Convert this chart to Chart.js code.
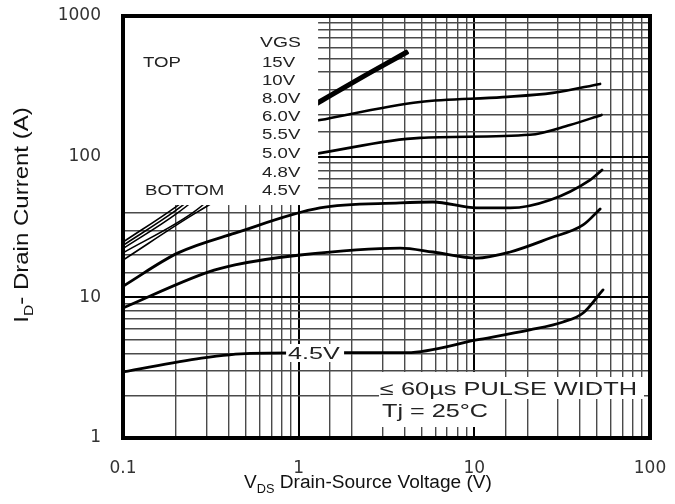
<!DOCTYPE html>
<html>
<head>
<meta charset="utf-8">
<script src="https://cdn.jsdelivr.net/npm/chart.js@4.4.1/dist/chart.umd.min.js"></script>
<style>
  html, body { margin: 0; padding: 0; background: #fff; }
</style>
</head>
<body>
<canvas id="chart" width="675" height="504"></canvas>
<script>
// VGS curves (VDS in V, ID in A)
const vds15 = [0.1, 0.2, 1.0, 1.32, 2.32, 4.1];
const id15  = [24.7, 44, 206, 252, 378, 565];
const vds10 = [0.1, 0.2, 1.0, 1.32, 2.32, 4.14];
const id10  = [23.4, 41.5, 201, 246, 370, 555];
const vds8  = [0.1, 0.2, 1.0, 1.32, 2.32, 4.18];
const id8   = [22.2, 39, 196, 240, 362, 545];
const vds6  = [0.1, 0.25, 1.0, 1.32, 4.9, 14.5, 28, 52];
const id6   = [20.7, 40, 170, 182, 245, 265, 284, 329];
const vds55 = [0.1, 0.27, 1.0, 1.32, 4.9, 20.7, 35, 53];
const id55  = [18.4, 41, 100, 106, 136, 143, 168, 198];
const vds5  = [0.1, 0.206, 0.434, 1.32, 3.78, 5.82, 10.3, 16, 27, 45.5, 53.3];
const id5   = [12.0, 20.7, 28.6, 43.2, 46.9, 47.6, 43.2, 43.2, 49.2, 68.2, 80.4];
const vds48 = [0.1, 0.305, 0.434, 1.02, 3.78, 5.82, 10.3, 16, 27, 41.6, 52];
const id48  = [8.4, 15.1, 17.0, 20.0, 22.4, 21.0, 19.0, 21.0, 26.4, 32.7, 42.5];
const vds45 = [0.1, 0.28, 0.53, 1.88, 4.14, 10.3, 20.7, 32, 41.6, 54];
const id45  = [2.95, 3.7, 4.0, 4.05, 4.05, 4.98, 5.86, 6.68, 7.74, 11.3];

const vgsLabels = ["15V", "10V", "8.0V", "6.0V", "5.5V", "5.0V", "4.8V", "4.5V"];
const xTickLabels = ["0.1", "1", "10", "100"];
const yTickLabels = ["1", "10", "100", "1000"];

function pts(xs, ys) {
  return xs.map((x, i) => ({ x: x, y: ys[i] }));
}

function isDecade(v) {
  const l = Math.log10(v);
  return Math.abs(l - Math.round(l)) < 1e-6;
}

// thin in the linear region, thick further right
const thinLeft = (w) => ({ borderWidth: ctx => ctx.p0.parsed.x < 0.9 ? 1.6 : w });

const curves = [
  [vds15, id15, 2.6, true],
  [vds10, id10, 2.6, true],
  [vds8,  id8,  2.6, true],
  [vds6,  id6,  2.6, true],
  [vds55, id55, 2.6, true],
  [vds5,  id5,  2.8, false],
  [vds48, id48, 2.8, false],
  [vds45, id45, 2.8, false]
];

const datasets = curves.map((c, i) => {
  const ds = {
    label: vgsLabels[i],
    data: pts(c[0], c[1]),
    borderColor: "#000",
    borderWidth: c[2],
    pointRadius: 0,
    fill: false,
    cubicInterpolationMode: "monotone",
    borderCapStyle: "round"
  };
  if (c[3]) ds.segment = thinLeft(c[2]);
  return ds;
});

function stretchText(ctx, txt, x, y, size, sx, family) {
  ctx.save();
  ctx.font = size + "px " + (family || "'Liberation Sans', Arial, sans-serif");
  ctx.translate(x, y);
  ctx.scale(sx, 1);
  ctx.textAlign = "left";
  ctx.textBaseline = "alphabetic";
  ctx.fillText(txt, 0, 0);
  ctx.restore();
}

// draw a run of [text, size, baselineShift] parts centred on 0
function drawParts(ctx, parts, sx) {
  const fam = "'Liberation Sans', Arial, sans-serif";
  let total = 0;
  parts.forEach(p => { ctx.font = p[1] + "px " + fam; total += ctx.measureText(p[0]).width; });
  ctx.scale(sx, 1);
  let x = -total / 2;
  ctx.textAlign = "left";
  ctx.textBaseline = "alphabetic";
  parts.forEach(p => {
    ctx.font = p[1] + "px " + fam;
    ctx.fillText(p[0], x, p[2]);
    x += ctx.measureText(p[0]).width;
  });
}

const annotations = {
  id: "annotations",
  afterDatasetsDraw(chart) {
    const ctx = chart.ctx;
    const a = chart.chartArea;
    const xs = chart.scales.x;
    const ys = chart.scales.y;

    ctx.save();
    // legend box over the top-left corner
    const boxR = xs.getPixelForValue(1.29);
    const boxB = ys.getPixelForValue(45.3);
    ctx.fillStyle = "#fff";
    ctx.fillRect(a.left, a.top, boxR - a.left, boxB - a.top);

    ctx.fillStyle = "#222";
    stretchText(ctx, "VGS", 260, 47, 14, 1.38);
    stretchText(ctx, "TOP", 143, 67, 14, 1.33);
    stretchText(ctx, "BOTTOM", 145, 195, 14, 1.33);
    const rows = [67, 85, 103, 121, 139, 158, 177, 195];
    vgsLabels.forEach((t, i) => stretchText(ctx, t, 262, rows[i], 14, 1.33));

    // inline label on the bottom curve
    const lx = xs.getPixelForValue(1.24);
    const ly = ys.getPixelForValue(4.02);
    ctx.fillStyle = "#fff";
    ctx.fillRect(lx - 29, ly - 9, 58, 18);
    ctx.fillStyle = "#222";
    stretchText(ctx, "4.5V", lx - 27, ly + 6, 17, 1.48);

    // test conditions
    ctx.fillStyle = "#fff";
    ctx.fillRect(379, 372, 110, 55);
    ctx.fillRect(379, 377, 265, 22);
    ctx.fillStyle = "#222";
    stretchText(ctx, "\u2264 60\u00b5s PULSE WIDTH", 380, 395, 18, 1.41);
    stretchText(ctx, "Tj = 25\u00b0C", 382, 417, 18, 1.4);

    // frame
    ctx.strokeStyle = "#000";
    ctx.lineWidth = 4;
    ctx.strokeRect(a.left, a.top, a.right - a.left, a.bottom - a.top);

    // axis titles with subscripts
    ctx.fillStyle = "#111";
    ctx.save();
    ctx.translate(28, 215);
    ctx.rotate(-Math.PI / 2);
    drawParts(ctx, [["I", 20, 0], ["D", 13, 5], ["- Drain Current (A)", 20, 0]], 1.2);
    ctx.restore();

    ctx.save();
    ctx.translate(368, 488);
    drawParts(ctx, [["V", 18, 0], ["DS", 12, 5], [" Drain-Source Voltage (V)", 18, 0]], 1.06);
    ctx.restore();

    ctx.restore();
  }
};

const gridColor = c => (c.tick && isDecade(c.tick.value)) ? "#000" : "#4a4a4a";
const gridWidth = c => (c.tick && isDecade(c.tick.value)) ? 2 : 1.4;

new Chart(document.getElementById("chart"), {
  type: "line",
  data: { datasets: datasets },
  plugins: [annotations],
  options: {
    responsive: false,
    animation: false,
    layout: { padding: { left: 0, right: 25, top: 16, bottom: 0 } },
    plugins: {
      legend: { display: false },
      tooltip: { enabled: false }
    },
    scales: {
      x: {
        type: "logarithmic",
        min: 0.1,
        max: 100,
        afterFit(scale) {
          scale.height = 66;
          scale.paddingLeft = 0;
          scale.paddingRight = 0;
        },
        border: { display: false },
        grid: { color: gridColor, lineWidth: gridWidth, drawTicks: false },
        ticks: {
          autoSkip: false,
          maxRotation: 0,
          padding: 20,
          color: "#333",
          font: { family: "'DejaVu Sans', sans-serif", size: 17 },
          callback: v => isDecade(v) ? xTickLabels[Math.round(Math.log10(v)) + 1] : ""
        }
      },
      y: {
        type: "logarithmic",
        min: 1,
        max: 1000,
        afterFit(scale) {
          scale.width = 123;
          scale.paddingTop = 0;
          scale.paddingBottom = 0;
        },
        border: { display: false },
        grid: { color: gridColor, lineWidth: gridWidth, drawTicks: false },
        ticks: {
          autoSkip: false,
          padding: 22,
          color: "#333",
          font: { family: "'DejaVu Sans', sans-serif", size: 17 },
          callback: v => isDecade(v) ? yTickLabels[Math.round(Math.log10(v))] : ""
        }
      }
    }
  }
});
</script>
</body>
</html>
